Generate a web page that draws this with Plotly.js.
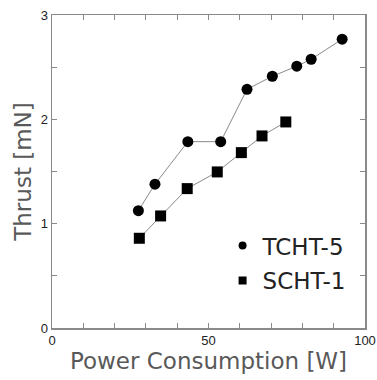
<!DOCTYPE html>
<html>
<head>
<meta charset="utf-8">
<script src="https://cdn.plot.ly/plotly-3.0.1.min.js"></script>
<style>html,body{margin:0;padding:0;background:#fff;}#chart{width:377px;height:380px;}</style>
</head>
<body>
<div id="chart"></div>
<script>
const tchtName = 'TCHT-5';
const tchtPower = [27.6, 32.9, 43.4, 53.9, 62.3, 70.4, 78.2, 82.8, 92.7];
const tchtThrust = [1.125, 1.378, 1.786, 1.786, 2.288, 2.413, 2.509, 2.576, 2.768];

const schtName = 'SCHT-1';
const schtPower = [27.9, 34.7, 43.2, 52.8, 60.5, 67.1, 74.7];
const schtThrust = [0.86, 1.074, 1.336, 1.496, 1.681, 1.841, 1.975];

const xTickVals = [0, 50, 100];
const xTickText = ['0', '50', '100'];
const yTickVals = [0, 1, 2, 3];
const yTickText = ['0', '1', '2', '3'];

const lineStyle = {color: '#8a8a8a', width: 1};
const titleFont = {family: '"DejaVu Sans", sans-serif', size: 23, color: '#595959'};

const traces = [
  {x: tchtPower, y: tchtThrust, mode: 'lines+markers', showlegend: false,
   line: lineStyle, marker: {symbol: 'circle', size: 11, color: '#000'}},
  {x: schtPower, y: schtThrust, mode: 'lines+markers', showlegend: false,
   line: lineStyle, marker: {symbol: 'square', size: 11, color: '#000'}},
  {x: [null], y: [null], mode: 'markers', name: tchtName, legendgroup: 'a',
   marker: {symbol: 'circle', size: 8, color: '#000'}},
  {x: [null], y: [null], mode: 'markers', name: schtName, legendgroup: 'b',
   marker: {symbol: 'square', size: 8, color: '#000'}}
];

const axisCommon = {
  showgrid: false, zeroline: false, showline: true, linecolor: '#8a8a8a', linewidth: 1.5,
  mirror: 'ticks', ticks: 'inside', tickcolor: '#8a8a8a', tickwidth: 1,
  tickfont: {family: 'Liberation Sans, Arial, sans-serif', size: 13, color: '#222'}
};

const layout = {
  width: 377, height: 380,
  margin: {l: 52, r: 12, t: 15, b: 52},
  paper_bgcolor: '#fff', plot_bgcolor: '#fff',
  xaxis: Object.assign({}, axisCommon, {
    range: [0, 100], tickmode: 'array', tickvals: xTickVals, ticktext: xTickText, ticklen: 5,
    minor: {dtick: 10, ticks: 'inside', ticklen: 5, tickcolor: '#8a8a8a'},
    title: {text: 'Power Consumption [W]', font: titleFont, standoff: 6}
  }),
  yaxis: Object.assign({}, axisCommon, {
    range: [0, 3], tickmode: 'array', tickvals: yTickVals, ticktext: yTickText, ticklen: 5,
    minor: {dtick: 0.5, ticks: 'inside', ticklen: 5, tickcolor: '#8a8a8a'},
    title: {text: 'Thrust [mN]', font: titleFont, standoff: 2}
  }),
  legend: {
    x: 0.545, y: 0.332, xanchor: 'left', yanchor: 'top',
    bgcolor: 'rgba(0,0,0,0)', traceorder: 'grouped', tracegroupgap: 2,
    font: {family: '"DejaVu Sans", sans-serif', size: 23, color: '#222'}
  }
};

Plotly.newPlot('chart', traces, layout, {displayModeBar: false, staticPlot: true});
</script>
</body>
</html>
